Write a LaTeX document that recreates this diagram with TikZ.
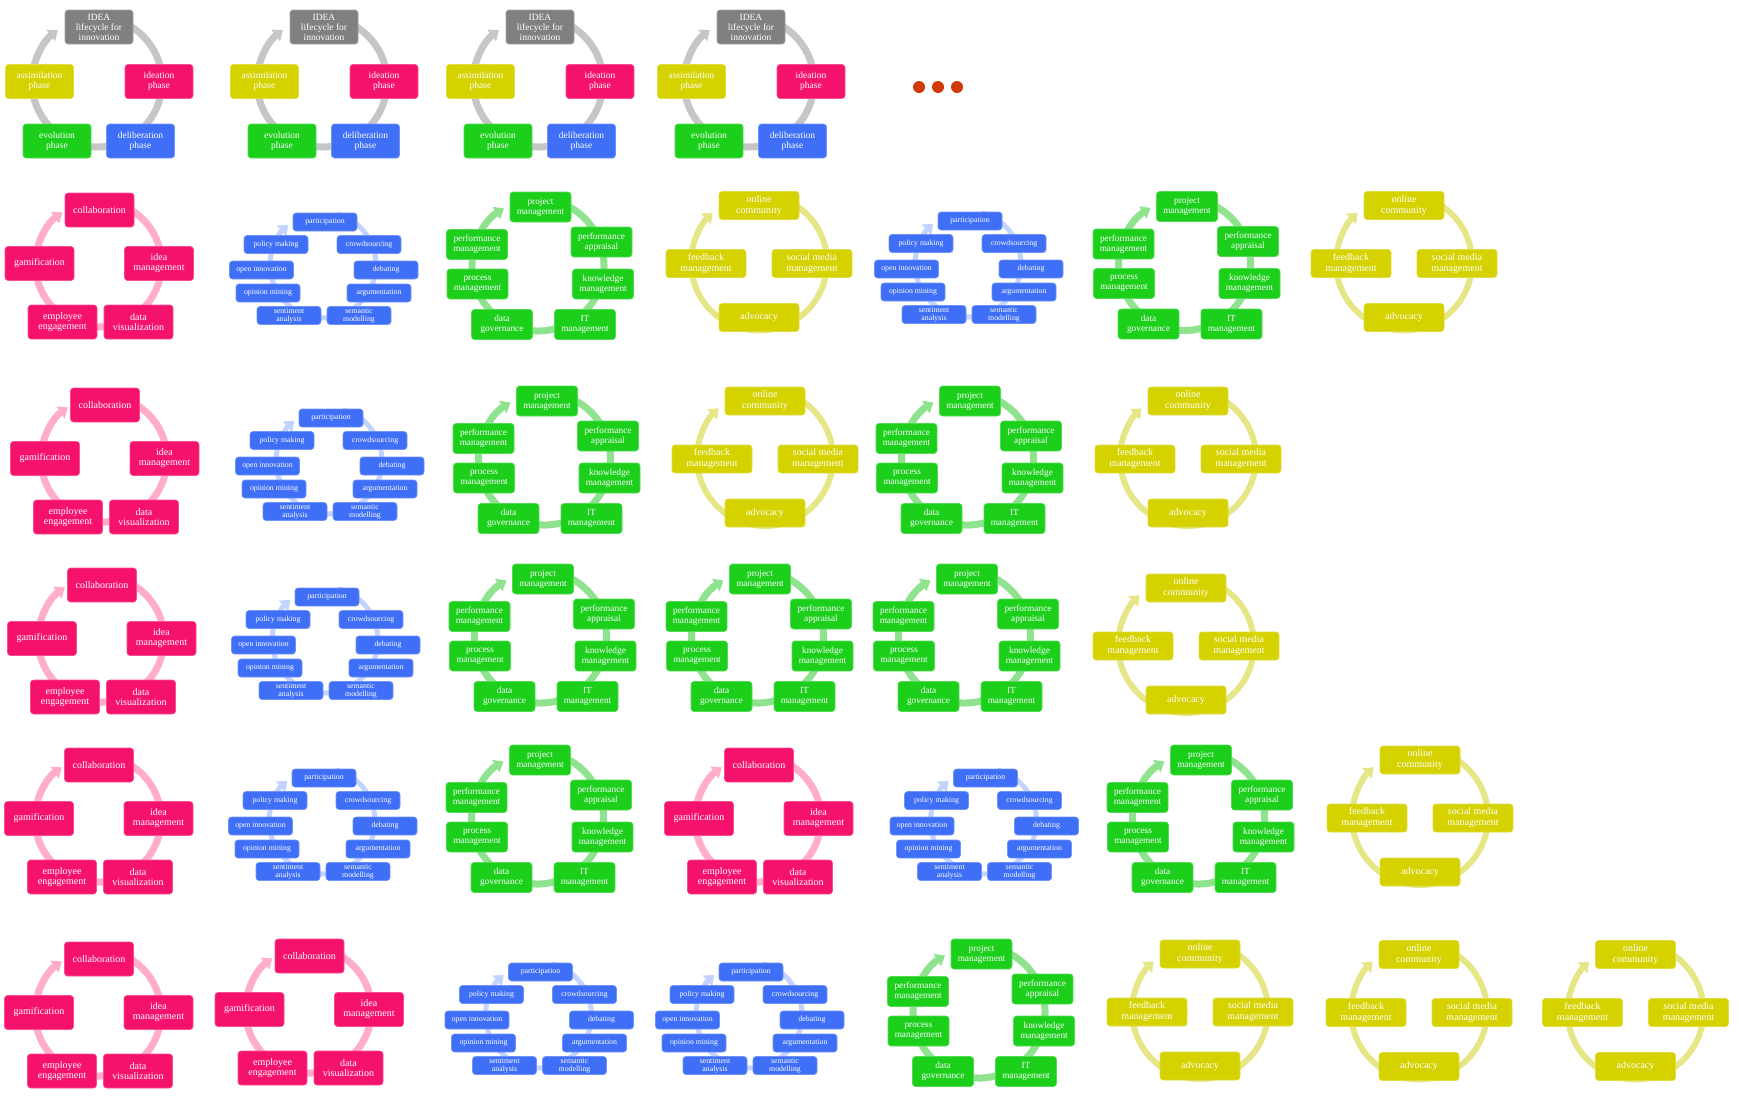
\documentclass[tikz,border=0pt]{standalone}
\usepackage{xcolor}
\usepackage{fontspec}
\setmainfont{Liberation Serif}
\usetikzlibrary{arrows.meta}

% Colores de las cajas y de los anillos
\definecolor{grisidea}{HTML}{808080}
\definecolor{anillogris}{HTML}{C6C6C6}
\definecolor{rosa}{HTML}{F5126C}
\definecolor{anillorosa}{HTML}{FFADCB}
\definecolor{azul}{HTML}{3F6FF6}
\definecolor{anilloazul}{HTML}{C3D3FF}
\definecolor{verde}{HTML}{1BCF1B}
\definecolor{anilloverde}{HTML}{8FE38F}
\definecolor{amarillo}{HTML}{D5D200}
\definecolor{anilloamarillo}{HTML}{E7E687}
\definecolor{puntos}{HTML}{CF3A08}

\tikzset{
  caja/.style={rounded corners=3pt, text=white, align=center, inner sep=1pt, line width=0.6pt},
  cajaidea/.style={caja, minimum width=68pt, minimum height=34pt, font=\fontsize{9.5}{10}\selectfont},
  cajarosa/.style={caja, fill=rosa, draw=rosa!75!white, minimum width=69pt, minimum height=34pt, font=\fontsize{10}{10}\selectfont},
  cajaazul/.style={caja, fill=azul, draw=azul!75!white, minimum width=64pt, minimum height=18pt, font=\fontsize{7.8}{8}\selectfont},
  cajaverde/.style={caja, fill=verde, draw=verde!75!white, minimum width=61pt, minimum height=30pt, font=\fontsize{9.3}{10}\selectfont},
  cajaamarilla/.style={caja, fill=amarillo, draw=amarillo!75!white, minimum width=80pt, minimum height=28pt, font=\fontsize{10}{11}\selectfont},
  anillo/.style={-{Triangle[width=14pt,length=9pt]}},
}

% Ciclo IDEA: #1 nombre, #2 x, #3 y de la caja superior
\newcommand{\cicloidea}[3]{%
\begin{scope}[shift={(#2,-#3)}]
  \coordinate (#1-c) at (-2,-55);
  \draw[anillo, anillogris, line width=7pt] (#1-c) ++(80:65) arc[start angle=80, end angle=-233, radius=65];
  \node[cajaidea, fill=grisidea, draw=grisidea!75!white] (#1-top) at (0,0) {IDEA\\lifecycle for\\innovation};
  \node[cajaidea, fill=amarillo, draw=amarillo!75!white] (#1-asim) at (-59.5,-54.5) {assimilation\\phase};
  \node[cajaidea, fill=rosa, draw=rosa!75!white] (#1-idea) at (60,-54.5) {ideation\\phase};
  \node[cajaidea, fill=verde, draw=verde!75!white] (#1-evol) at (-42,-114) {evolution\\phase};
  \node[cajaidea, fill=azul, draw=azul!75!white] (#1-delib) at (41.5,-114) {deliberation\\phase};
\end{scope}}

% Ciclo rosa
\newcommand{\ciclorosa}[3]{%
\begin{scope}[shift={(#2,-#3)}]
  \coordinate (#1-c) at (-1,-54);
  \draw[anillo, anillorosa, line width=7pt] (#1-c) ++(80:63) arc[start angle=80, end angle=-235, radius=63];
  \node[cajarosa] (#1-top) at (0,0) {collaboration};
  \node[cajarosa] (#1-idea) at (59.5,-53.5) {idea\\management};
  \node[cajarosa] (#1-data) at (39,-112) {data\\visualization};
  \node[cajarosa] (#1-empl) at (-37,-112) {employee\\engagement};
  \node[cajarosa] (#1-gami) at (-60,-53.5) {gamification};
\end{scope}}

% Ciclo azul
\newcommand{\cicloazul}[3]{%
\begin{scope}[shift={(#2,-#3)}]
  \coordinate (#1-c) at (-2,-43);
  \draw[anillo, anilloazul, line width=5pt] (#1-c) ++(75:53) arc[start angle=75, end angle=-229, radius=53];
  \node[cajaazul] (#1-top) at (0,0) {participation};
  \node[cajaazul] (#1-crowd) at (44,-22.5) {crowdsourcing};
  \node[cajaazul] (#1-deb) at (61,-48) {debating};
  \node[cajaazul] (#1-arg) at (54,-71) {argumentation};
  \node[cajaazul] (#1-sem) at (34,-93.5) {semantic\\modelling};
  \node[cajaazul] (#1-sent) at (-36,-93.5) {sentiment\\analysis};
  \node[cajaazul] (#1-opin) at (-57,-71) {opinion mining};
  \node[cajaazul] (#1-open) at (-63.5,-48) {open innovation};
  \node[cajaazul] (#1-pol) at (-49,-22.5) {policy making};
\end{scope}}

% Ciclo verde
\newcommand{\cicloverde}[3]{%
\begin{scope}[shift={(#2,-#3)}]
  \coordinate (#1-c) at (-2.5,-58);
  \draw[anillo, anilloverde, line width=7pt] (#1-c) ++(80:66) arc[start angle=80, end angle=-239, radius=66];
  \node[cajaverde] (#1-top) at (0,0) {project\\management};
  \node[cajaverde] (#1-apr) at (61,-35) {performance\\appraisal};
  \node[cajaverde] (#1-know) at (62.5,-77) {knowledge\\management};
  \node[cajaverde] (#1-it) at (44.5,-117.5) {IT\\management};
  \node[cajaverde] (#1-gov) at (-38.5,-117.5) {data\\governance};
  \node[cajaverde] (#1-proc) at (-63,-77) {process\\management};
  \node[cajaverde] (#1-perf) at (-63.5,-37.5) {performance\\management};
\end{scope}}

% Ciclo amarillo
\newcommand{\cicloamarillo}[3]{%
\begin{scope}[shift={(#2,-#3)}]
  \coordinate (#1-c) at (0,-57);
  \draw[anillo, anilloamarillo, line width=6pt] (#1-c) ++(75:68) arc[start angle=75, end angle=-227, radius=68];
  \node[cajaamarilla] (#1-top) at (0,0) {online\\community};
  \node[cajaamarilla] (#1-soc) at (53,-58) {social media\\management};
  \node[cajaamarilla] (#1-adv) at (0,-112) {advocacy};
  \node[cajaamarilla] (#1-feed) at (-53,-58) {feedback\\management};
\end{scope}}

\begin{document}
\begin{tikzpicture}[x=1pt, y=1pt]
\useasboundingbox (0,0) rectangle (1739,-1096);

% Fila de ciclos IDEA
\cicloidea{i1}{99}{27}
\cicloidea{i2}{324}{27}
\cicloidea{i3}{540}{27}
\cicloidea{i4}{751}{27}

% Puntos suspensivos
\foreach \px [count=\k] in {919,938,957}
  \fill[puntos] (\px,-87) circle (6) coordinate (p\k);

% Fila 1
\ciclorosa{a1}{99.5}{210}
\cicloazul{a2}{325}{222}
\cicloverde{a3}{540.5}{207}
\cicloamarillo{a4}{759}{205.5}
\cicloazul{a5}{970}{221}
\cicloverde{a6}{1187}{206.5}
\cicloamarillo{a7}{1404}{205.5}

% Fila 2
\ciclorosa{b1}{105}{405}
\cicloazul{b2}{331}{418}
\cicloverde{b3}{547}{401}
\cicloamarillo{b4}{765}{401}
\cicloverde{b5}{970}{401}
\cicloamarillo{b6}{1188}{401}

% Fila 3
\ciclorosa{c1}{102}{585}
\cicloazul{c2}{327}{597}
\cicloverde{c3}{543}{579}
\cicloverde{c4}{760}{579}
\cicloverde{c5}{967}{579}
\cicloamarillo{c6}{1186}{588}

% Fila 4
\ciclorosa{d1}{99}{765}
\cicloazul{d2}{324}{778}
\cicloverde{d3}{540}{760}
\ciclorosa{d4}{759}{765}
\cicloazul{d5}{985.5}{778}
\cicloverde{d6}{1201}{760}
\cicloamarillo{d7}{1420}{760}

% Fila 5
\ciclorosa{e1}{99}{959}
\ciclorosa{e2}{309.5}{956}
\cicloazul{e3}{540.5}{972}
\cicloazul{e4}{751}{972}
\cicloverde{e5}{981.5}{954}
\cicloamarillo{e6}{1200}{954}
\cicloamarillo{e7}{1419}{954.5}
\cicloamarillo{e8}{1635.5}{954.5}

\end{tikzpicture}
\end{document}
